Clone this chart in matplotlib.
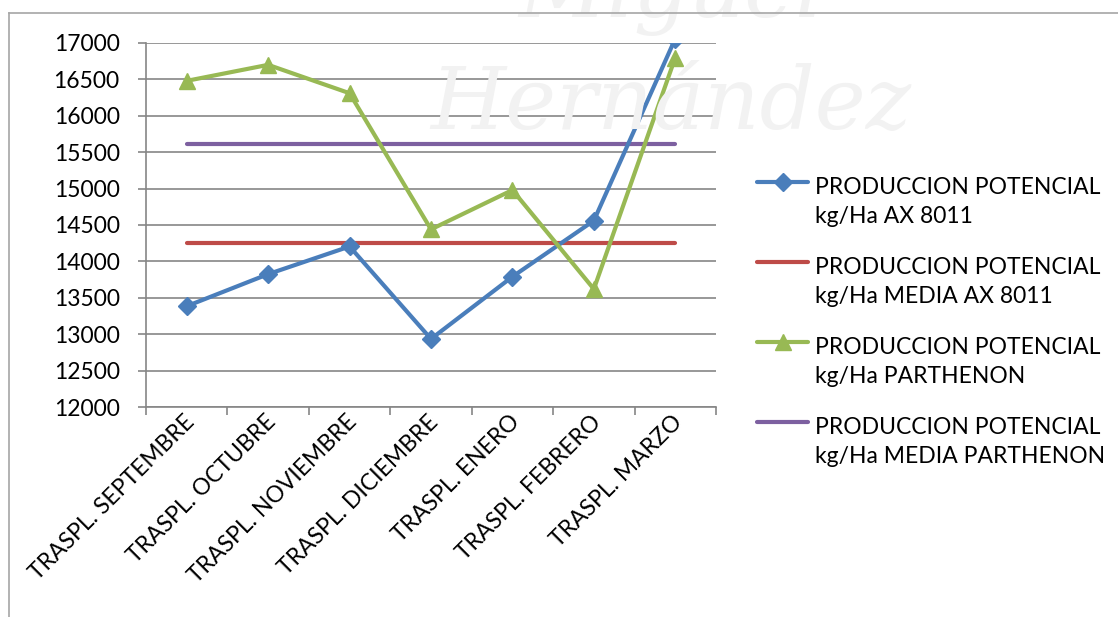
import matplotlib
matplotlib.use('Agg')
import matplotlib.pyplot as plt
from matplotlib.lines import Line2D
import numpy as np

plt.rcParams['font.family'] = ['Lato', 'DejaVu Sans']

categories = ['TRASPL. SEPTEMBRE', 'TRASPL. OCTUBRE', 'TRASPL. NOVIEMBRE',
              'TRASPL. DICIEMBRE', 'TRASPL. ENERO', 'TRASPL. FEBRERO', 'TRASPL. MARZO']
ax8011 = [13385, 13825, 14205, 12935, 13790, 14560, 17060]
parthenon = [16480, 16700, 16310, 14440, 14980, 13620, 16800]
media_ax8011 = [14250] * 7
media_parthenon = [15619] * 7
labels = ['PRODUCCION POTENCIAL\nkg/Ha AX 8011',
          'PRODUCCION POTENCIAL\nkg/Ha MEDIA AX 8011',
          'PRODUCCION POTENCIAL\nkg/Ha PARTHENON',
          'PRODUCCION POTENCIAL\nkg/Ha MEDIA PARTHENON']
yticks = list(range(12000, 17001, 500))

BLUE, RED, GREEN, PURPLE = '#4A7EBB', '#BE4B48', '#98B954', '#7D60A0'
W, H = 1118, 617

fig = plt.figure(figsize=(W / 100, H / 100), dpi=100)
ax = fig.add_axes([146 / W, 1 - 407 / H, 570 / W, 364 / H])

# faint background watermark
fig.text(0.60, 1.01, 'Miguel', fontsize=62, color='#f2f2f2', style='italic',
         family='DejaVu Serif', ha='center', va='center', zorder=0)
fig.text(0.60, 0.83, 'Hernández', fontsize=62, color='#f2f2f2', style='italic',
         family='DejaVu Serif', ha='center', va='center', zorder=0)

# chart area border (left and top edges)
fig.add_artist(Line2D([9 / W, 9 / W], [0, 1 - 13 / H], color='#a6a6a6', lw=1.2))
fig.add_artist(Line2D([9 / W, 1], [1 - 13 / H, 1 - 13 / H], color='#a6a6a6', lw=1.2))

series = [
    (ax8011, BLUE, 'D', 9),
    (media_ax8011, RED, None, 0),
    (parthenon, GREEN, '^', 12),
    (media_parthenon, PURPLE, None, 0),
]

x = np.arange(len(categories))
for vals, col, mk, ms in series:
    ax.plot(x, vals, color=col, lw=3, marker=mk, ms=ms, zorder=4 if mk else 3,
            solid_capstyle='round')

ax.set_xlim(-0.5, len(categories) - 0.5)
ax.set_ylim(12000, 17000)
ax.set_yticks(yticks)
ax.set_yticklabels([str(v) for v in yticks], fontsize=16.5)
ax.set_xticks(np.arange(-0.5, len(categories), 1.0))
ax.set_xticklabels([])
ax.tick_params(axis='both', length=6, color='#868686', width=1.2)
ax.tick_params(axis='y', pad=13)
ax.yaxis.grid(True, color='#868686', lw=1.2)
ax.set_axisbelow(True)
for s in ['top', 'right']:
    ax.spines[s].set_visible(False)
for s in ['left', 'bottom']:
    ax.spines[s].set_color('#868686')
    ax.spines[s].set_linewidth(1.2)
ax.patch.set_alpha(0)

for i, c in enumerate(categories):
    ax.text(i + 0.05, 11840, c, rotation=45, rotation_mode='anchor', ha='right', va='center',
            fontsize=16.5, clip_on=False)

# legend: handle aligned with the first line of each two-line label
for k, (lab, (vals, col, mk, ms)) in enumerate(zip(labels, series)):
    y = 1 - (182 + 80 * k) / H
    fig.add_artist(Line2D([757 / W, 808 / W], [y, y], color=col, lw=3,
                          solid_capstyle='round'))
    if mk:
        fig.add_artist(Line2D([782.5 / W], [y], color=col, marker=mk, ms=ms, lw=0))
    fig.text(815 / W, y - 41 / H, lab, fontsize=16.5, va='baseline', ha='left',
             linespacing=1.45)

fig.savefig('out.png', dpi=100)
